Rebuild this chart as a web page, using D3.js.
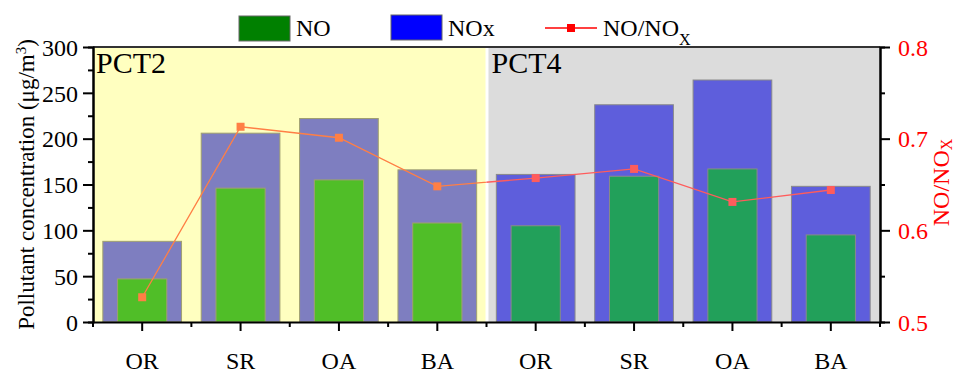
<!DOCTYPE html>
<html>
<head>
<meta charset="utf-8">
<script src="https://cdn.jsdelivr.net/npm/d3@7"></script>
<style>
body { margin: 0; background: #fff; }
text { font-family: "Liberation Serif", "Times New Roman", serif; }
</style>
</head>
<body>
<div id="chart"></div>
<script>
// data
var groups = ["PCT2", "PCT4"]
var sites = ["OR", "SR", "OA", "BA"]
var noxPCT2 = [88, 206, 222, 166]
var noPCT2 = [47, 146, 155, 108]
var noxPCT4 = [161, 237, 264, 148]
var noPCT4 = [105, 159, 167, 95]
var ratioPCT2 = [0.527, 0.713, 0.701, 0.648]
var ratioPCT4 = [0.657, 0.667, 0.631, 0.644]
var leftTicks = [0, 50, 100, 150, 200, 250, 300]
var rightTicks = [0.5, 0.6, 0.7, 0.8]

var width = 958, height = 374
var margin = {top: 47, right: 78, bottom: 52, left: 93}

var palette = {
	PCT2: {bg: "#ffffc0", nox: "#7e7ec0", no: "#50be28", edge: "#a0a070", line: "#ff7f45"},
	PCT4: {bg: "#dcdcdc", nox: "#5e5edc", no: "#22a05a", edge: "#8a8a8a", line: "#ff5c5c"}
}

// one row per bar position
var rows = []
groups.forEach(function(g) {
	var nox = g == "PCT2" ? noxPCT2 : noxPCT4
	var no = g == "PCT2" ? noPCT2 : noPCT4
	var ratio = g == "PCT2" ? ratioPCT2 : ratioPCT4
	sites.forEach(function(s, i) {
		rows.push({key: g + "-" + s, group: g, site: s, nox: nox[i], no: no[i], ratio: ratio[i]})
	})
})

var svg = d3.select("#chart").append("svg")
	.attr("width", width)
	.attr("height", height)

var x = d3.scaleBand()
	.domain(rows.map(d => d.key))
	.range([margin.left, width - margin.right])
	.padding(0)

var y = d3.scaleLinear().domain([0, 300]).range([height - margin.bottom - 0, margin.top])
var y2 = d3.scaleLinear().domain([0.5, 0.8]).range([height - margin.bottom, margin.top])

var bw = x.bandwidth()
var plotBottom = height - margin.bottom

// group backgrounds
var defs = svg.append("defs")
groups.forEach(function(g, gi) {
	var keys = rows.filter(d => d.group == g).map(d => d.key)
	var x0 = x(keys[0]) + (gi == 0 ? 0 : 2)
	var x1 = x(keys[keys.length - 1]) + bw - (gi == 0 ? 1 : 0)
	svg.append("rect")
		.attr("x", x0).attr("y", margin.top)
		.attr("width", x1 - x0).attr("height", plotBottom - margin.top)
		.attr("fill", palette[g].bg)
	defs.append("clipPath").attr("id", "clip-" + g)
		.append("rect")
		.attr("x", gi == 0 ? 0 : x(keys[0]))
		.attr("y", 0)
		.attr("width", gi == 0 ? x(keys[keys.length - 1]) + bw : width)
		.attr("height", height)
	svg.append("text")
		.attr("x", x0 + 3)
		.attr("y", margin.top + 26)
		.style("font-size", "30px")
		.text(g)
})

// NOx bars
svg.append("g").selectAll("rect")
	.data(rows)
	.enter()
	.append("rect")
	.attr("x", d => x(d.key) + bw * 0.1)
	.attr("width", bw * 0.8)
	.attr("y", d => y(d.nox))
	.attr("height", d => plotBottom - y(d.nox))
	.attr("fill", d => palette[d.group].nox)
	.attr("stroke", d => palette[d.group].edge)
	.attr("stroke-width", 1)

// NO bars
svg.append("g").selectAll("rect")
	.data(rows)
	.enter()
	.append("rect")
	.attr("x", d => x(d.key) + bw * 0.25)
	.attr("width", bw * 0.5)
	.attr("y", d => y(d.no))
	.attr("height", d => plotBottom - y(d.no))
	.attr("fill", d => palette[d.group].no)
	.attr("stroke", d => palette[d.group].edge)
	.attr("stroke-width", 1)

// ratio line, coloured by the panel it passes over
var line = d3.line()
	.x(d => x(d.key) + bw / 2)
	.y(d => y2(d.ratio))

groups.forEach(function(g) {
	svg.append("path")
		.datum(rows)
		.attr("d", line)
		.attr("fill", "none")
		.attr("stroke", palette[g].line)
		.attr("stroke-width", 1.3)
		.attr("clip-path", "url(#clip-" + g + ")")
})

svg.append("g").selectAll("rect")
	.data(rows)
	.enter()
	.append("rect")
	.attr("x", d => x(d.key) + bw / 2 - 4)
	.attr("y", d => y2(d.ratio) - 4)
	.attr("width", 8)
	.attr("height", 8)
	.attr("fill", d => palette[d.group].line)

// top frame line
svg.append("line")
	.attr("x1", margin.left).attr("x2", width - margin.right)
	.attr("y1", margin.top).attr("y2", margin.top)
	.attr("stroke", "#333")
	.attr("stroke-width", 2)

function styleAxis(g, color) {
	g.selectAll(".domain").attr("stroke", "#000").attr("stroke-width", 2)
	g.selectAll(".tick line").attr("stroke", "#000").attr("stroke-width", 2)
	g.selectAll("text")
		.attr("fill", color)
		.style("font-size", "24px")
		.style("font-family", "'Liberation Serif', 'Times New Roman', serif")
}

// left axis
var minorLeft = d3.range(25, 300, 50)
svg.append("g")
	.attr("transform", `translate(${margin.left},0)`)
	.call(d3.axisLeft(y).tickValues(minorLeft).tickSize(5).tickFormat(""))
	.call(g => styleAxis(g, "#000"))
svg.append("g")
	.attr("transform", `translate(${margin.left},0)`)
	.call(d3.axisLeft(y).tickValues(leftTicks).tickSize(10).tickSizeOuter(0).tickPadding(5))
	.call(g => styleAxis(g, "#000"))
	.call(g => g.selectAll("text").attr("dy", "0.34em"))

// right axis
var minorRight = [0.55, 0.65, 0.75]
svg.append("g")
	.attr("transform", `translate(${width - margin.right},0)`)
	.call(d3.axisRight(y2).tickValues(minorRight).tickSize(5).tickFormat(""))
	.call(g => styleAxis(g, "#f00"))
svg.append("g")
	.attr("transform", `translate(${width - margin.right},0)`)
	.call(d3.axisRight(y2).tickValues(rightTicks).tickSize(10).tickSizeOuter(0).tickPadding(8).tickFormat(d3.format(".1f")))
	.call(g => styleAxis(g, "#f00"))
	.call(g => g.selectAll("text").attr("dy", "0.34em"))

// bottom axis
var bottom = svg.append("g")
	.attr("transform", `translate(0,${plotBottom})`)
	.call(d3.axisBottom(x).tickSize(9).tickSizeOuter(0).tickPadding(21).tickFormat(k => k.split("-")[1]))
	.call(g => styleAxis(g, "#000"))
bottom.selectAll(".tick text").attr("dy", "0.71em")
var edges = rows.map(d => x(d.key)).concat([x(rows[rows.length - 1].key) + bw])
bottom.selectAll(".minor")
	.data(edges)
	.enter()
	.append("line")
	.attr("x1", d => d).attr("x2", d => d)
	.attr("y1", 0).attr("y2", 5)
	.attr("stroke", "#000")
	.attr("stroke-width", 2)

// axis titles
var leftTitle = svg.append("text")
	.attr("transform", `translate(34,${(margin.top + plotBottom) / 2}) rotate(-90)`)
	.attr("text-anchor", "middle")
	.style("font-size", "23px")
leftTitle.append("tspan").text("Pollutant concentration (\u03bcg/m")
leftTitle.append("tspan").attr("baseline-shift", "super").style("font-size", "15px").text("3")
leftTitle.append("tspan").text(")")

var rightTitle = svg.append("text")
	.attr("transform", `translate(949,${(margin.top + plotBottom) / 2 - 2}) rotate(-90)`)
	.attr("text-anchor", "middle")
	.attr("fill", "#f00")
	.style("font-size", "24px")
rightTitle.append("tspan").text("NO/NO")
rightTitle.append("tspan").attr("baseline-shift", "-3px").style("font-size", "16px").text("X")

// legend
var legend = svg.append("g")
legend.append("rect").attr("x", 239).attr("y", 16).attr("width", 51).attr("height", 25)
	.attr("fill", "#008000").attr("stroke", "#666").attr("stroke-width", 1)
legend.append("text").attr("x", 296).attr("y", 36).style("font-size", "24px").text("NO")
legend.append("rect").attr("x", 391).attr("y", 15).attr("width", 51).attr("height", 25)
	.attr("fill", "#0000ff").attr("stroke", "#666").attr("stroke-width", 1)
legend.append("text").attr("x", 448).attr("y", 36).style("font-size", "24px").text("NOx")
legend.append("line").attr("x1", 545).attr("x2", 597).attr("y1", 28).attr("y2", 28)
	.attr("stroke", "#f00").attr("stroke-width", 1.5)
legend.append("rect").attr("x", 567).attr("y", 24).attr("width", 8).attr("height", 8).attr("fill", "#f00")
var lt = legend.append("text").attr("x", 603).attr("y", 36).style("font-size", "24px")
lt.append("tspan").text("NO/NO")
lt.append("tspan").attr("baseline-shift", "sub").style("font-size", "16px").text("X")
</script>
</body>
</html>
